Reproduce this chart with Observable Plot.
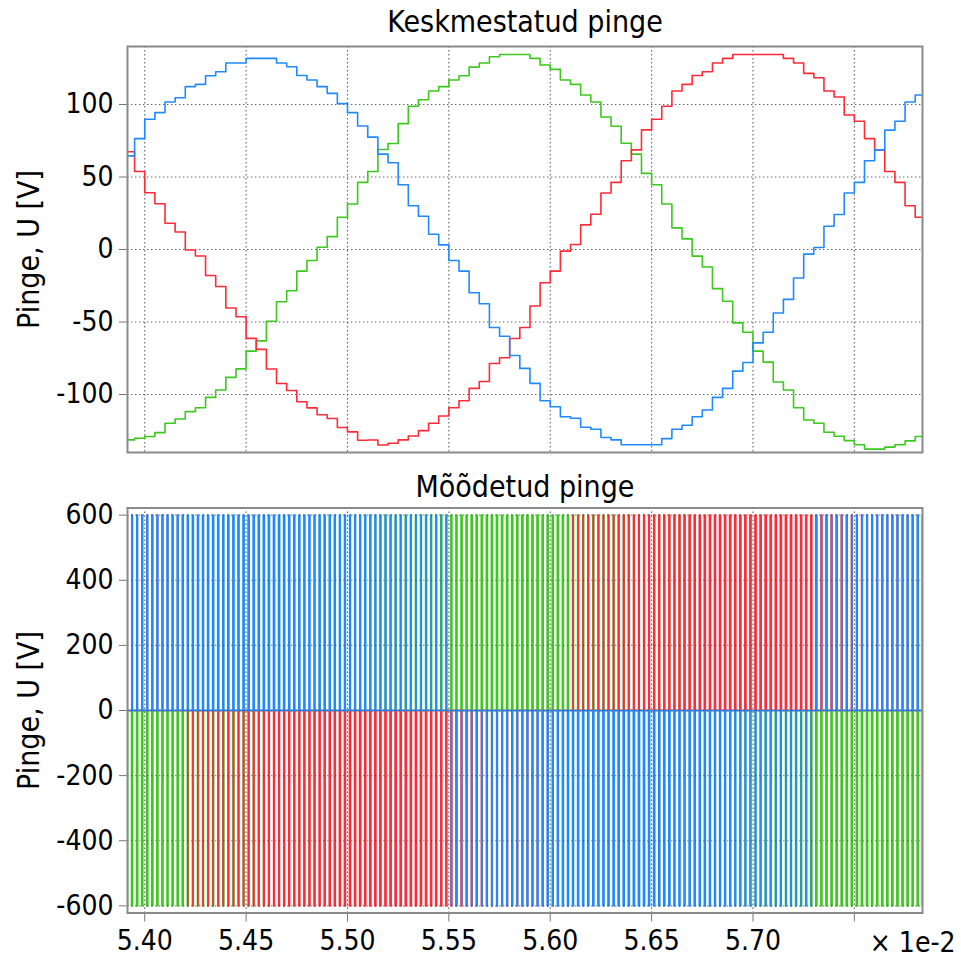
<!DOCTYPE html>
<html>
<head>
<meta charset="utf-8">
<script src="https://cdn.jsdelivr.net/npm/d3@7"></script>
<script src="https://cdn.jsdelivr.net/npm/@observablehq/plot@0.6"></script>
<style>
  html, body { margin: 0; padding: 0; background: #fff; }
  #chart { width: 961px; height: 960px; position: relative; }
  #chart svg { display: block; }
  #chart svg [aria-label$="tick"] path, #chart svg .tick line { stroke: #777; }
  #chart svg g[aria-label$="tick label"] text, #chart svg g[aria-label$="tick label"] { font-size: 28px; }
  #chart svg g[aria-label$="axis label"] text, #chart svg g[aria-label$="axis label"] { font-size: 30px; }
</style>
</head>
<body>
<div id="chart"></div>
<script>
// Time axis in units of 1e-2 s; one averaging window per sample.
const sampleStart = 5.390;
const samplePeriod = 0.005;
const xDomain = [5.3915, 5.7836];
const xTicks = [5.40, 5.45, 5.50, 5.55, 5.60, 5.65, 5.70, 5.75];
const xTickLabels = ["5.40", "5.45", "5.50", "5.55", "5.60", "5.65", "5.70", ""];
const xScaleNote = "× 1e-2";

// Averaged phase voltages [V], one value per averaging window.
const phaseBlue = [64.6,
  76.5, 89.8, 94.4, 101.7, 104.7, 112.3, 113.9, 119.8, 122.6, 128.6, 128.6, 131.8, 131.8, 131.8, 128.6, 126.0, 120.0, 116.9, 112.3, 107.7, 100.6, 94.4, 85.2, 77.5, 65.8,
  59.8, 44.7, 30.2, 22.9, 10.5, 3.2, -7.6, -14.9, -29.8, -37.4, -53.8, -59.8, -73.1, -82.0, -92.3, -104.3, -108.4, -115.3, -116.4, -122.6, -124.0, -129.7, -131.3, -134.7, -134.7,
  -134.7, -134.7, -130.4, -124.0, -121.2, -115.3, -110.7, -102.0, -95.8, -83.9, -77.9, -64.4, -57.1, -43.8, -34.4, -19.7, -3.2, 1.4, 16.0, 24.1, 39.0, 46.3, 61.2, 68.7, 82.3, 88.5, 101.7,
  106.6];
const phaseRed = [67.4,
  53.8, 39.1, 31.6, 18.1, 12.1, -0.3, -4.5, -17.9, -25.5, -40.3, -46.4, -61.3, -68.9, -82.4, -92.4, -97.2, -105.0, -109.2, -114.0, -116.6, -122.8, -125.8, -131.5, -131.4, -134.8,
  -133.6, -131.3, -128.6, -124.9, -119.8, -114.8, -109.1, -104.3, -95.8, -91.0, -78.6, -74.7, -61.4, -53.8, -39.0, -22.9, -14.9, -1.1, 3.4, 17.0, 24.3, 39.0, 46.3, 61.2, 68.7,
  82.5, 89.8, 98.8, 109.3, 113.9, 120.0, 122.6, 128.6, 131.8, 134.5, 134.5, 134.5, 134.5, 134.5, 131.8, 128.6, 121.5, 118.5, 109.3, 105.2, 92.8, 88.5, 76.5, 68.7, 53.8, 46.3, 30.2,
  22.2];
const phaseGreen = [-131.3,
  -130.2, -129.0, -126.3, -119.8, -116.9, -111.8, -109.1, -102.0, -96.9, -88.2, -82.3, -70.1, -63.0, -49.5, -36.0, -28.4, -14.9, -7.6, 1.6, 8.9, 22.2, 31.4, 46.3, 53.8, 69.0,
  73.1, 86.8, 98.8, 103.3, 109.3, 112.3, 116.9, 119.8, 125.8, 128.6, 132.9, 134.5, 134.5, 134.5, 131.8, 127.2, 124.2, 116.9, 113.9, 106.6, 101.7, 91.4, 85.0, 73.3, 65.8,
  52.5, 44.7, 31.4, 14.9, 7.3, -4.6, -12.1, -27.0, -35.7, -50.6, -57.1, -70.1, -77.7, -91.4, -96.9, -109.1, -117.6, -119.8, -126.0, -128.8, -131.8, -134.7, -137.7, -137.7, -136.3, -134.7, -132.0,
  -129.0];

// Switched (measured) voltage level of the inverter legs [V].
const dcLevel = 600;

const colors = {green: "#3cc81e", red: "#ff2b38", blue: "#2189ff"};
// drawing order: green underneath, blue on top
const phases = [
  {values: phaseGreen, color: colors.green},
  {values: phaseRed, color: colors.red},
  {values: phaseBlue, color: colors.blue}
];

const yTicksTop = [-100, -50, 0, 50, 100];
const yLabelsTop = ["-100", "-50", "0", "50", "100"];
const yTicksBottom = [-600, -400, -200, 0, 200, 400, 600];
const yLabelsBottom = ["-600", "-400", "-200", "0", "200", "400", "600"];

const titleTop = "Keskmestatud pinge";
const titleBottom = "Mõõdetud pinge";
const yLabel = "Pinge, U [V]";

// staircase points: each value holds for one averaging window
function staircase(values) {
  const pts = values.map((v, i) => ({t: sampleStart + i * samplePeriod, v}));
  pts.push({t: sampleStart + values.length * samplePeriod, v: values[values.length - 1]});
  return pts;
}

// PWM trace: two pulses of ±dcLevel per window whose width gives the window's mean value
function pwmTrace(values) {
  const pts = [{t: sampleStart, v: 0}];
  values.forEach((v, i) => {
    const t0 = sampleStart + i * samplePeriod;
    const s = v >= 0 ? 1 : -1;
    const w = Math.abs(v) / dcLevel * samplePeriod / 2;
    for (const h of [0.25, 0.75]) {
      const c = t0 + h * samplePeriod;
      pts.push({t: c - w / 2, v: 0}, {t: c - w / 2, v: s * dcLevel},
               {t: c + w / 2, v: s * dcLevel}, {t: c + w / 2, v: 0});
    }
  });
  pts.push({t: sampleStart + values.length * samplePeriod, v: 0});
  return pts;
}

const font = "'DejaVu Sans Condensed', 'DejaVu Sans', sans-serif";
const baseStyle = {fontFamily: font, fontSize: "28px", color: "#000", background: "#fff", overflow: "visible"};
const gridStyle = {stroke: "#444", strokeDasharray: "1.4,2.6", strokeWidth: 1.1, strokeOpacity: 0.85};

const averagedChart = Plot.plot({
  width: 961,
  height: 470,
  marginTop: 46,
  marginBottom: 18,
  marginLeft: 127,
  marginRight: 39,
  style: baseStyle,
  x: {domain: xDomain, axis: null},
  y: {
    domain: [-140, 140],
    ticks: yTicksTop,
    tickFormat: d => yLabelsTop[yTicksTop.indexOf(d)],
    tickSize: 8,
    tickPadding: 6,
    label: yLabel,
    labelAnchor: "center",
    labelOffset: 110,
    labelArrow: "none"
  },
  marks: [
    Plot.ruleX(xTicks, {...gridStyle}),
    Plot.ruleY(yTicksTop, {...gridStyle}),
    ...phases.map(p => Plot.line(staircase(p.values), {
      x: "t", y: "v", curve: "step-after", stroke: p.color, strokeWidth: 1.6, clip: true
    })),
    Plot.frame({stroke: "#8a8a8a", strokeWidth: 2}),
    Plot.text([titleTop], {frameAnchor: "top", lineAnchor: "middle", dy: -24, fontSize: 30, fill: "#000"})
  ]
});

const measuredChart = Plot.plot({
  width: 961,
  height: 490,
  marginTop: 37.5,
  marginBottom: 47.5,
  marginLeft: 127,
  marginRight: 39,
  style: baseStyle,
  x: {
    domain: xDomain,
    ticks: xTicks,
    tickFormat: d => xTickLabels[xTicks.indexOf(d)],
    tickSize: 9,
    tickPadding: 8,
    label: null
  },
  y: {
    domain: [-622, 622],
    ticks: yTicksBottom,
    tickFormat: d => yLabelsBottom[yTicksBottom.indexOf(d)],
    tickSize: 8,
    tickPadding: 6,
    label: yLabel,
    labelAnchor: "center",
    labelOffset: 110,
    labelArrow: "none"
  },
  marks: [
    ...phases.map(p => Plot.line(pwmTrace(p.values), {
      x: "t", y: "v", stroke: p.color, strokeWidth: 1.6, clip: true
    })),
    Plot.ruleX(xTicks, {...gridStyle}),
    Plot.ruleY(yTicksBottom, {...gridStyle, strokeOpacity: 0.6}),
    Plot.frame({stroke: "#8a8a8a", strokeWidth: 2}),
    Plot.text([titleBottom], {frameAnchor: "top", lineAnchor: "middle", dy: -20.5, fontSize: 30, fill: "#000"}),
    Plot.text([xScaleNote], {frameAnchor: "bottom-right", lineAnchor: "middle", dx: 33, dy: 30, textAnchor: "end", fontSize: 28, fill: "#000"})
  ]
});

document.getElementById("chart").append(averagedChart, measuredChart);
</script>
</body>
</html>
